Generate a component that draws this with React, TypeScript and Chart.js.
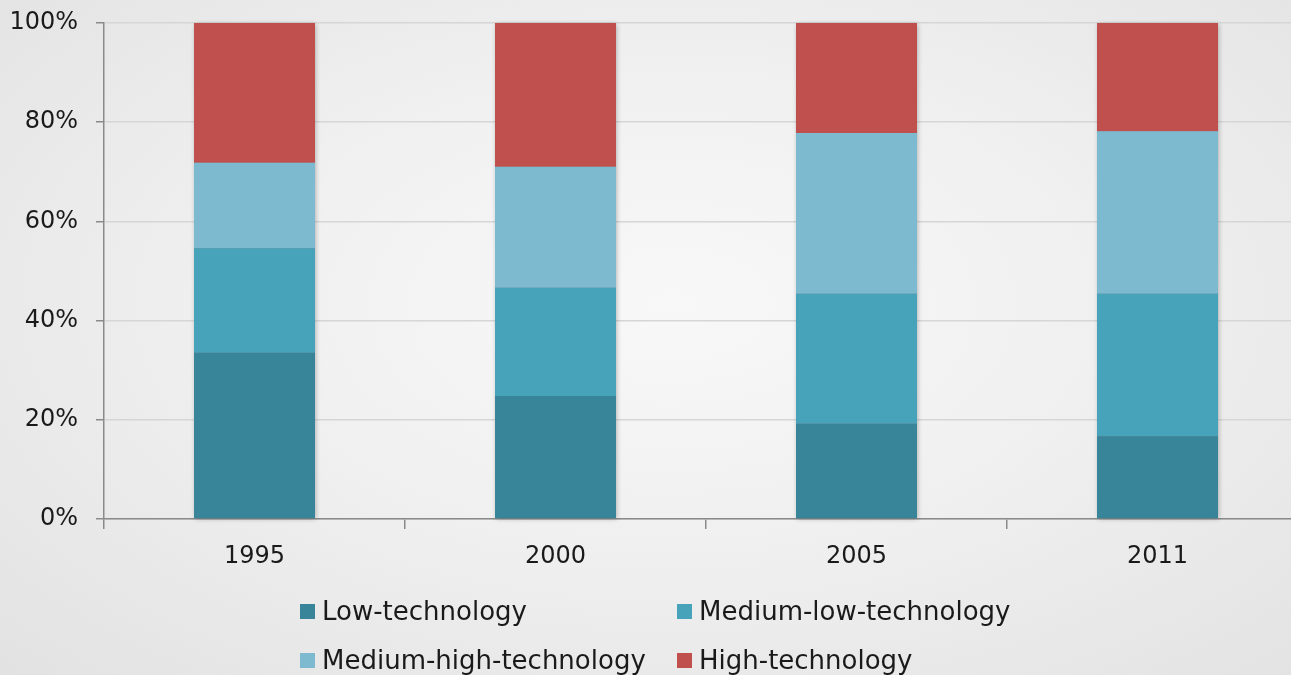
import React, { useEffect, useRef } from "react";
import { Chart, registerables } from "chart.js";

Chart.register(...registerables);

const categories = ["1995", "2000", "2005", "2011"];
const lowTech = [33.5, 24.8, 19.2, 16.7];
const mediumLowTech = [21.1, 21.8, 26.2, 28.7];
const mediumHighTech = [17.2, 24.4, 32.4, 32.8];
const highTech = [28.2, 29.0, 22.2, 21.8];
const yTicks = [0, 20, 40, 60, 80, 100];

const seriesNames = ["Low-technology", "Medium-low-technology", "Medium-high-technology", "High-technology"];
const seriesColors = ["#38859A", "#47A3BA", "#7DB9CF", "#C0504D"];

const FONT = "'DejaVu Sans', sans-serif";

const shadowPlugin = {
  id: "stackShadow",
  beforeDatasetsDraw(chart: any) {
    const ctx = chart.ctx;
    const metas = chart.getSortedVisibleDatasetMetas();
    if (!metas.length) return;
    const n = metas[0].data.length;
    ctx.save();
    ctx.shadowColor = "rgba(0,0,0,0.3)";
    ctx.shadowBlur = 5;
    ctx.shadowOffsetX = 1;
    ctx.shadowOffsetY = 1;
    ctx.fillStyle = "#888";
    for (let i = 0; i < n; i++) {
      let top = Infinity;
      let bottom = -Infinity;
      let x = 0;
      let w = 0;
      metas.forEach((m: any) => {
        const el = m.data[i];
        const p = el.getProps(["x", "y", "base", "width"], true);
        top = Math.min(top, p.y, p.base);
        bottom = Math.max(bottom, p.y, p.base);
        x = p.x;
        w = p.width;
      });
      ctx.fillRect(x - w / 2, top, w, bottom - top);
    }
    ctx.restore();
  },
};

export default function App() {
  const canvasRef = useRef<HTMLCanvasElement | null>(null);

  useEffect(() => {
    if (!canvasRef.current) return;
    const data = [lowTech, mediumLowTech, mediumHighTech, highTech];
    const chart = new Chart(canvasRef.current, {
      type: "bar",
      data: {
        labels: categories,
        datasets: data.map((d, i) => ({
          label: seriesNames[i],
          data: d,
          backgroundColor: seriesColors[i],
          borderWidth: 0,
          categoryPercentage: 1,
          barPercentage: 0.402,
        })),
      },
      plugins: [shadowPlugin],
      options: {
        animation: false,
        responsive: false,
        maintainAspectRatio: false,
        layout: { padding: { top: 23, left: 0, right: 0, bottom: 0 } },
        plugins: {
          legend: { display: false },
          tooltip: { enabled: false },
        },
        scales: {
          x: {
            stacked: true,
            border: { display: true, color: "#8a8a8a", width: 1.5 },
            grid: {
              display: true,
              drawOnChartArea: false,
              drawTicks: true,
              tickLength: 10,
              offset: true,
              color: "#8a8a8a",
              lineWidth: 1.5,
            },
            ticks: {
              color: "#1a1a1a",
              font: { family: FONT, size: 24 },
              padding: 13,
            },
            afterFit(scale: any) {
              scale.height = 61;
              scale.paddingLeft = 0;
              scale.paddingRight = 0;
            },
          },
          y: {
            stacked: true,
            min: 0,
            max: 100,
            afterBuildTicks(scale: any) {
              scale.ticks = yTicks.map((v) => ({ value: v }));
            },
            border: { display: true, color: "#8a8a8a", width: 1.5 },
            grid: {
              color: "#d6d6d6",
              lineWidth: 1.5,
              tickLength: 8,
              tickColor: "#8a8a8a",
            },
            ticks: {
              color: "#1a1a1a",
              font: { family: FONT, size: 24 },
              padding: 18,
              callback: (v: any) => v + "%",
            },
            afterFit(scale: any) {
              scale.width = 104;
              scale.paddingTop = 0;
              scale.paddingBottom = 0;
            },
          },
        },
      },
    });
    return () => chart.destroy();
  }, []);

  const legendPos = [
    { left: 300, top: 603 },
    { left: 677, top: 603 },
    { left: 300, top: 652 },
    { left: 677, top: 652 },
  ];

  return (
    <div
      style={{
        position: "fixed",
        left: 0,
        top: 0,
        width: 1291,
        height: 675,
        overflow: "hidden",
        background: "radial-gradient(ellipse at 52% 45%, #f8f8f8 0%, #f0f0f0 45%, #e2e2e2 100%)",
      }}
    >
      <canvas ref={canvasRef} width={1308} height={580} style={{ position: "absolute", left: 0, top: 0, width: 1308, height: 580 }} />
      {seriesNames.map((name, i) => (
        <div
          key={name}
          style={{
            position: "absolute",
            left: legendPos[i].left,
            top: legendPos[i].top - 8,
            height: 32,
            display: "flex",
            alignItems: "center",
            whiteSpace: "nowrap",
            fontFamily: FONT,
            fontSize: 26,
            color: "#1a1a1a",
          }}
        >
          <span style={{ display: "inline-block", width: 15, height: 15, background: seriesColors[i], marginRight: 7 }} />
          <span>{name}</span>
        </div>
      ))}
    </div>
  );
}
